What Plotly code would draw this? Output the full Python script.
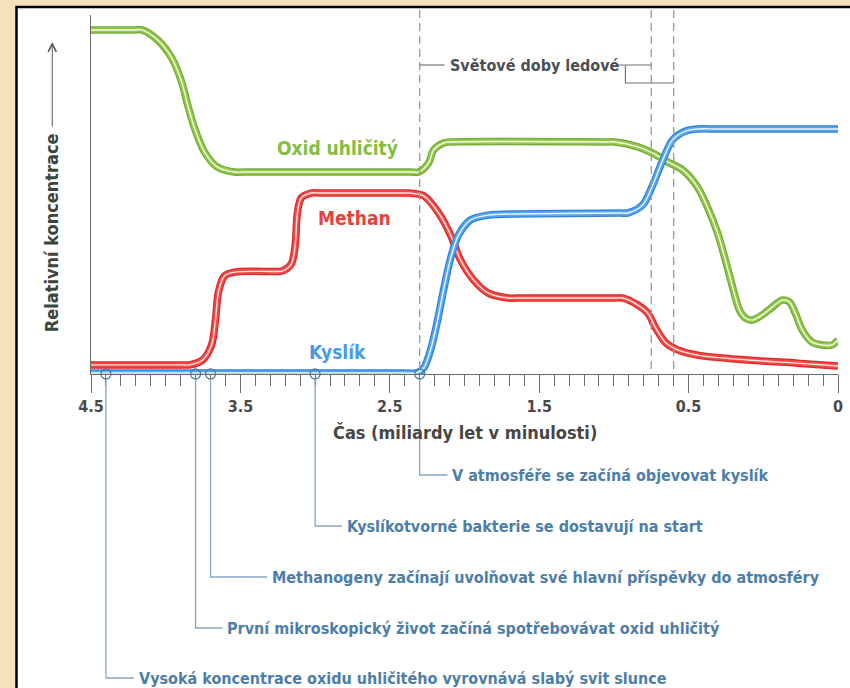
import numpy as np
import plotly.graph_objects as go

# --- data (time in billions of years ago, relative concentration 0-100) ---
co2_t = [4.5, 4.22, 4.16, 4.053, 3.96, 3.893, 3.853, 3.807, 3.74, 3.653, 3.54, 3.48, 2.36,
         2.307, 2.24, 2.207, 2.14, 2.08, 1.05, 0.993, 0.84, 0.74, 0.64, 0.54, 0.47, 0.437,
         0.403, 0.377, 0.353, 0.33, 0.31, 0.287, 0.253, 0.22, 0.187, 0.163, 0.143, 0.12,
         0.087, 0.053, 0.02, 0.0]
co2_v = [98.3, 98.3, 98.3, 95.4, 90.3, 83.4, 76.9, 70.3, 63.4, 59.1, 57.7, 57.7, 57.7,
         57.7, 60.3, 64.0, 66.0, 66.3, 66.3, 66.3, 64.9, 63.1, 60.6, 58.3, 53.4, 47.7,
         40.3, 32.6, 24.9, 18.3, 16.0, 15.4, 16.9, 19.1, 21.1, 20.6, 17.4, 12.6,
         9.1, 8.3, 8.3, 9.7]

ch4_t = [4.5, 3.9, 3.84, 3.753, 3.693, 3.667, 3.647, 3.607, 3.54, 3.28, 3.22, 3.16, 3.133,
         3.12, 3.093, 3.027, 2.96, 2.43, 2.373, 2.273, 2.173, 2.093, 2.027, 1.94, 1.84,
         1.707, 1.65, 1.0, 0.94, 0.84, 0.773, 0.72, 0.653, 0.573, 0.47, 0.303, 0.137, 0.0]
ch4_v = [2.6, 2.6, 2.6, 4.0, 8.3, 15.4, 23.4, 28.0, 29.1, 29.3, 29.4, 31.4, 36.9,
         45.4, 50.3, 51.7, 51.7, 51.7, 51.7, 50.9, 46.0, 39.7, 32.6, 26.9, 23.1,
         21.7, 21.7, 21.7, 21.7, 19.7, 17.4, 13.1, 8.9, 6.9, 5.4, 4.0, 3.1, 2.3]

o2_t = [4.5, 2.4, 2.32, 2.273, 2.227, 2.187, 2.14, 2.093, 2.04, 1.96, 1.84, 1.78, 0.96,
        0.907, 0.807, 0.74, 0.673, 0.607, 0.52, 0.47, 0.4, 0.0]
o2_v = [0.3, 0.3, 0.3, 1.7, 6.9, 14.0, 24.0, 33.1, 39.7, 44.0, 45.4, 45.6, 46.0,
        46.0, 48.3, 54.0, 61.1, 66.9, 69.4, 70.0, 70.0, 70.0]

tick_times = [4.5, 3.5, 2.5, 1.5, 0.5, 0]
tick_labels = ["4.5", "3.5", "2.5", "1.5", "0.5", "0"]

ice_ages = [2.3, 0.75, 0.6]

event_times = [2.3, 3.0, 3.7, 3.8, 4.4]
event_texts = [
    "V atmosféře se začíná objevovat kyslík",
    "Kyslíkotvorné bakterie se dostavují na start",
    "Methanogeny začínají uvolňovat své hlavní příspěvky do atmosféry",
    "První mikroskopický život začíná spotřebovávat oxid uhličitý",
    "Vysoká koncentrace oxidu uhličitého vyrovnává slabý svit slunce",
]

# --- layout geometry ---
W, H = 850, 688
L, R, T, B = 91, 7, 15, 314
FONT = "Liberation Sans Narrow, DejaVu Sans Condensed, Roboto Condensed, Arial Narrow, sans-serif"


def to_axis(t):
    # the last 0.5 Gyr is drawn at double scale
    t = np.asarray(t, dtype=float)
    return np.where(t >= 0.5, 4.5 - t, 4.0 + (0.5 - t) * 2)


def px_x(x):
    return (x - L) / (W - L - R)


def px_y(y):
    return (H - B - y) / (H - T - B)


def ax_px(t):
    return L + float(to_axis(t)) * (W - L - R) / 5


fig = go.Figure()

series = [
    (co2_t, co2_v, "#74ab35", "#93c74e", "#f3fadc"),
    (ch4_t, ch4_v, "#dd2a2a", "#f04a48", "#ffe6dc"),
    (o2_t, o2_v, "#2e82dc", "#57a6ef", "#e9f5ff"),
]
for t, v, edge, fill, core in series:
    for color, width in [(edge, 7.5), (fill, 5), (core, 1.4)]:
        fig.add_trace(go.Scatter(
            x=to_axis(t), y=v, mode="lines",
            line=dict(color=color, width=width, shape="spline", smoothing=0.9),
            hoverinfo="skip", showlegend=False, cliponaxis=False,
        ))

# event markers on the axis
fig.add_trace(go.Scatter(
    x=to_axis(event_times), y=[0] * len(event_times), mode="markers",
    marker=dict(symbol="circle-open", size=10, color="#4d7ea8", line=dict(width=1.3)),
    hoverinfo="skip", showlegend=False, cliponaxis=False,
))

shapes = []
# white panel with black frame
shapes.append(dict(type="rect", xref="paper", yref="paper",
                   x0=px_x(16), x1=px_x(870), y0=px_y(7), y1=px_y(710),
                   fillcolor="white", line=dict(color="black", width=2.5), layer="below"))

# ice ages (dashed)
for ta in ice_ages:
    xa = float(to_axis(ta))
    shapes.append(dict(type="line", xref="x", yref="paper", x0=xa, x1=xa,
                       y0=px_y(10), y1=px_y(374),
                       line=dict(color="#8d9cb0", width=1.3, dash="8px,5px")))

# ice-age label connectors and bracket
lab_col = "#70767d"
shapes.append(dict(type="line", xref="paper", yref="paper",
                   x0=px_x(ax_px(ice_ages[0])), x1=px_x(447), y0=px_y(65), y1=px_y(65),
                   line=dict(color=lab_col, width=1.2)))
shapes.append(dict(type="path", xref="paper", yref="paper",
                   path="M %f %f L %f %f M %f %f L %f %f L %f %f" % (
                       px_x(621), px_y(65), px_x(ax_px(ice_ages[1])), px_y(65),
                       px_x(629), px_y(65), px_x(629), px_y(83),
                       px_x(ax_px(ice_ages[2])), px_y(83)),
                   line=dict(color=lab_col, width=1.2)))

# event leader lines
ev_col = "#86a7c4"
row_y = [475, 526, 577, 628, 678]
text_off = [31, 30, 60, 30, 31]
for te, yy, off in zip(event_times, row_y, text_off):
    xe = ax_px(te)
    shapes.append(dict(type="path", xref="paper", yref="paper",
                       path="M %f %f L %f %f L %f %f" % (
                           px_x(xe), px_y(379), px_x(xe), px_y(yy),
                           px_x(xe + off - 3), px_y(yy)),
                       line=dict(color=ev_col, width=1.3)))

annotations = []
for te, yy, off, txt in zip(event_times, row_y, text_off, event_texts):
    annotations.append(dict(x=px_x(ax_px(te) + off), y=px_y(yy), xref="paper", yref="paper",
                            text=txt, showarrow=False, xanchor="left", yanchor="middle",
                            font=dict(family=FONT, size=16, color="#4d7ea8", weight="bold")))

annotations.append(dict(x=px_x(450), y=px_y(65), xref="paper", yref="paper",
                        text="Světové doby ledové", showarrow=False, xanchor="left",
                        yanchor="middle",
                        font=dict(family=FONT, size=16, color="#4b5057", weight="bold")))

# curve labels
for txt, t, v, col in [("Oxid uhličitý", 2.853, 64.6, "#86bd45"),
                       ("Methan", 2.733, 44.6, "#e8413c"),
                       ("Kyslík", 2.847, 6.3, "#4a9be6")]:
    annotations.append(dict(x=float(to_axis(t)), y=v, text=txt, showarrow=False,
                            xanchor="center", yanchor="middle",
                            font=dict(family=FONT, size=19, color=col, weight="bold")))

# axis titles
annotations.append(dict(x=px_x(468), y=px_y(432), xref="paper", yref="paper",
                        text="Čas (miliardy let v minulosti)", showarrow=False,
                        xanchor="center", yanchor="middle",
                        font=dict(family=FONT, size=18, color="#464646", weight="bold")))
annotations.append(dict(x=px_x(52), y=px_y(233), xref="paper", yref="paper",
                        text="Relativní koncentrace", showarrow=False, textangle=-90,
                        xanchor="center", yanchor="middle",
                        font=dict(family=FONT, size=18, color="#3b463d", weight="bold")))
annotations.append(dict(x=px_x(52), y=px_y(42), xref="paper", yref="paper", text="",
                        showarrow=True, ax=0, ay=86, arrowhead=5, arrowsize=1.6,
                        arrowwidth=1, arrowcolor="#5a5a5a"))

fig.update_layout(
    width=W, height=H,
    margin=dict(l=L, r=R, t=T, b=B),
    paper_bgcolor="#f5e2bd",
    plot_bgcolor="rgba(0,0,0,0)",
    shapes=shapes,
    annotations=annotations,
    showlegend=False,
)
fig.update_xaxes(
    range=[0, 5], showgrid=False, zeroline=False,
    showline=True, linecolor="#6a6a6a", linewidth=1.2,
    tickmode="array", tickvals=to_axis(tick_times), ticktext=tick_labels,
    ticks="outside", ticklen=18, tickwidth=1.2, tickcolor="#6a6a6a",
    tickfont=dict(family=FONT, size=16, color="#4a4a4a", weight="bold"),
    minor=dict(tickmode="linear", tick0=0, dtick=0.1, ticks="outside", ticklen=11,
               tickwidth=1, tickcolor="#6a6a6a", showgrid=False),
)
fig.update_yaxes(
    range=[0, (H - B - T) / 3.5], showgrid=False, zeroline=False,
    showline=True, linecolor="#6a6a6a", linewidth=1.2, showticklabels=False, ticks="",
)

# drop the page's default body margin so the figure sits at the window's corner
fig.write_html("out.html", config={"displayModeBar": False},
               post_script="document.body.style.margin = '0px';")
